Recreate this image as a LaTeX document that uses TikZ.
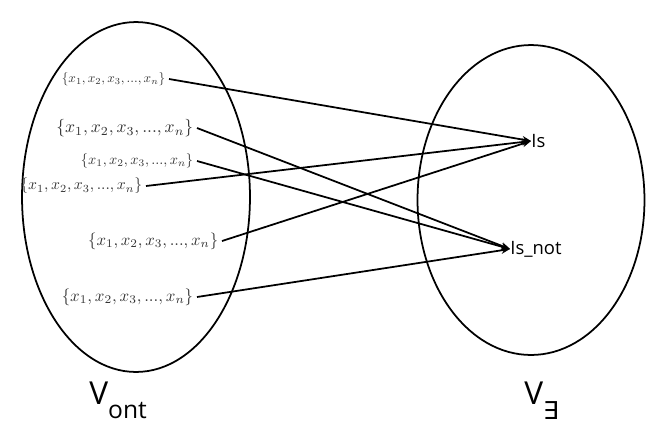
\documentclass[tikz,border=0pt]{standalone}
\usepackage{graphicx}
\usepackage{fontspec}
\newfontfamily\labelfont{Open Sans}
\newfontfamily\symfont{DejaVu Sans}
\usepackage{tikz}
\usetikzlibrary{shapes.geometric, arrows.meta, positioning}

\newcommand{\setlist}[1]{\scalebox{#1}{$\{x_1, x_2, x_3, ..., x_n\}$}}

\begin{document}
\begin{tikzpicture}[
        x=0.02cm, y=-0.02cm,
        >={Stealth[length=5pt, width=4pt]},
        setoval/.style={ellipse, draw=black, line width=1pt, inner sep=0pt},
        member/.style={anchor=east, inner sep=2pt, text=black!80},
        target/.style={anchor=west, inner sep=0pt, font=\labelfont\fontsize{10.5}{12}\selectfont},
        setname/.style={anchor=base west, inner sep=0pt, font=\labelfont\fontsize{18}{22}\selectfont},
        arrow/.style={->, line width=1pt, draw=black}
    ]
    \useasboundingbox (0,0) rectangle (663,427);

    \node[setoval, minimum width=4.56cm, minimum height=7cm] (vont) at (136,197) {};
    \node[setoval, minimum width=4.54cm, minimum height=6.2cm] (vex) at (531,200) {};

    % sets on the left
    \node[member] (s1) at (169,79) {\setlist{0.755}};
    \node[member] (s2) at (197,128) {\setlist{1}};
    \node[member] (s3) at (197,161) {\setlist{0.82}};
    \node[member] (s4) at (146,186) {\setlist{0.89}};
    \node[member] (s5) at (222,241) {\setlist{0.95}};
    \node[member] (s6) at (197,297) {\setlist{0.96}};

    % values on the right
    \node[target] (is) at (531,141) {Is};
    \node[target] (isnot) at (510,249) {Is\_not};

    \node[setname] (vontname) at (89,404) {V\raisebox{-0.45em}{\fontsize{14}{16}\selectfont ont}};
    \node[setname] (vexname) at (524,404) {V\raisebox{-0.5em}{\symfont\fontsize{14}{16}\selectfont ∃}};

    \draw[arrow] (s1.east) -- (is.west);
    \draw[arrow] (s2.east) -- (isnot.west);
    \draw[arrow] (s3.east) -- (isnot.west);
    \draw[arrow] (s4.east) -- (is.west);
    \draw[arrow] (s5.east) -- (is.west);
    \draw[arrow] (s6.east) -- (isnot.west);

\end{tikzpicture}
\end{document}
